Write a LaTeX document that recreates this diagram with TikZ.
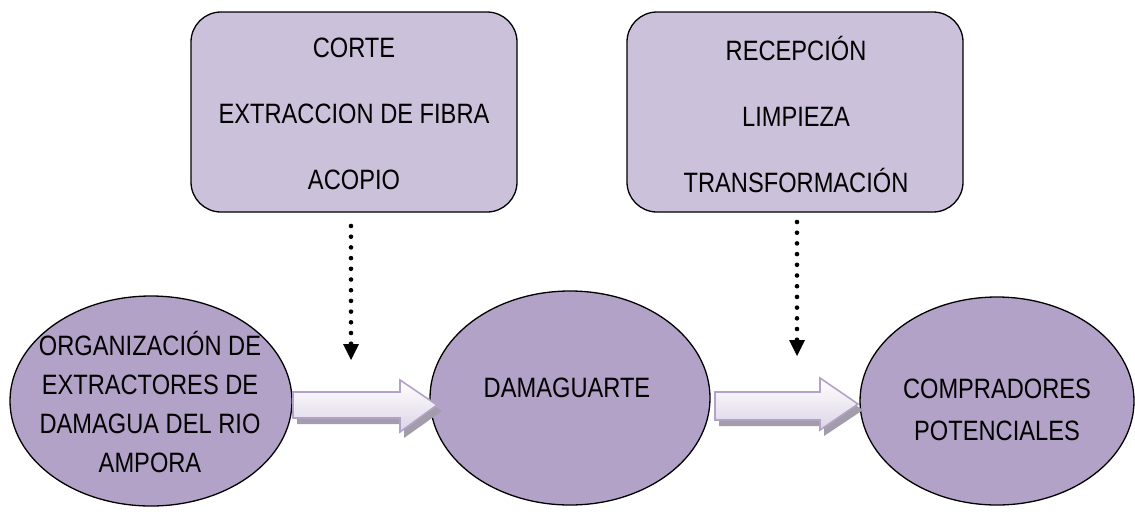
\documentclass[tikz,border=0pt]{standalone}
\usepackage{fontspec}
\setmainfont[FakeStretch=0.845]{Liberation Sans}
\usetikzlibrary{shapes.geometric}
\definecolor{ellfill}{HTML}{B3A2C7}
\definecolor{boxfill}{HTML}{CCC1DA}
\definecolor{arrline}{HTML}{B3A2C7}
\definecolor{arrshadow}{HTML}{A39CAB}
\definecolor{arrbottom}{HTML}{DCD4E6}
\tikzset{
  ell/.style={ellipse, draw=black, line width=1.3pt, fill=ellfill, inner sep=0pt},
  procbox/.style={rectangle, rounded corners=30pt, draw=black, line width=1.3pt, fill=boxfill, inner sep=0pt},
  txt/.style={align=center, inner sep=0pt},
  dotline/.style={line width=4.6pt, dash pattern=on 0pt off 10.7pt, line cap=round},
  blockarr/.style={draw=arrline, line width=1.6pt, top color=white, bottom color=arrbottom},
  blockshadow/.style={fill=arrshadow}
}
\begin{document}
\begin{tikzpicture}[x=1pt,y=-1pt, font=\fontsize{28}{39}\selectfont]
\useasboundingbox (0,0) rectangle (1135,515);

% ellipses
\node[ell, minimum width=282pt, minimum height=210pt] (org) at (151,401) {};
\node[txt] (orgt) at (150,402) {ORGANIZACIÓN DE\\EXTRACTORES DE\\DAMAGUA DEL RIO\\AMPORA};

\node[ell, minimum width=280pt, minimum height=214pt] (dam) at (570,398) {};
\node[txt] (damt) at (567,388) {DAMAGUARTE};

\node[ell, minimum width=274pt, minimum height=208pt] (comp) at (997,401) {};
\node[txt, font=\fontsize{28}{42}\selectfont] (compt) at (997,410) {COMPRADORES\\POTENCIALES};

% top boxes
\node[procbox, minimum width=326pt, minimum height=200pt] (b1) at (354,112) {};
\node[txt, font=\fontsize{28}{66}\selectfont] (b1t) at (354,114) {CORTE\\EXTRACCION DE FIBRA\\ACOPIO};

\node[procbox, minimum width=336pt, minimum height=200pt] (b2) at (795,112) {};
\node[txt, font=\fontsize{28}{66}\selectfont] (b2t) at (796,114) {RECEPCIÓN\\LIMPIEZA\\TRANSFORMACIÓN};

% block arrows (shadow first)
\fill[blockshadow] (297,398) -- (404,398) -- (404,386) -- (442,411) -- (404,438) -- (404,424) -- (297,424) -- cycle;
\path[blockarr] (293,392) -- (400,392) -- (400,380) -- (437,405) -- (400,432) -- (400,418) -- (293,418) -- cycle;

\fill[blockshadow] (719,398) -- (824,398) -- (824,384) -- (863,410) -- (824,436) -- (824,426) -- (719,426) -- cycle;
\path[blockarr] (715,392) -- (820,392) -- (820,378) -- (858,404) -- (820,430) -- (820,420) -- (715,420) -- cycle;

% dotted arrows
\coordinate (d1s) at (351,226);
\coordinate (d1e) at (351,344);
\draw[dotline] (d1s) -- (d1e);
\fill (d1e) ++(-8,0) -- ++(16,0) -- ++(-8,16) -- cycle;

\coordinate (d2s) at (797,222);
\coordinate (d2e) at (797,340);
\draw[dotline] (d2s) -- (d2e);
\fill (d2e) ++(-8,0) -- ++(16,0) -- ++(-8,16) -- cycle;
\end{tikzpicture}
\end{document}
